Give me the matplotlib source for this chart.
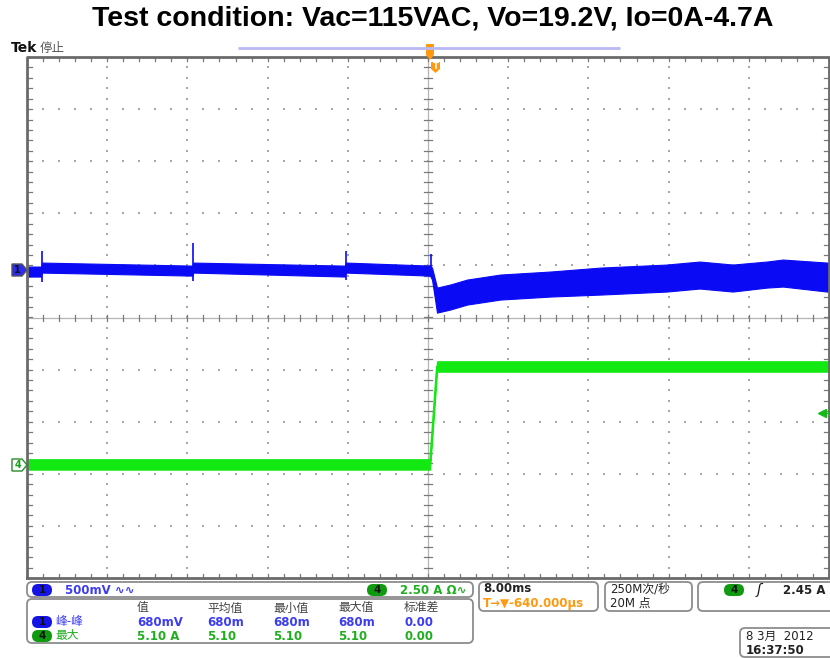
import matplotlib.pyplot as plt
import numpy as np
from matplotlib.patches import FancyBboxPatch, Polygon

plt.rcParams['font.family'] = ['DejaVu Sans', 'Noto Sans CJK SC']

# Scope settings
t_div = 8.0          # ms/div
ch1_scale = 500.0    # mV/div
ch4_scale = 2.5      # A/div
ch1_pos = 0.92       # div, channel 1 ground marker
ch4_pos = -2.82      # div, channel 4 zero marker
trig_level = 2.45    # A
trig_time = 0.2      # ms

# Channel 1: output voltage ripple envelope (mV around marker)
ch1_t = [-40.0, -38.6, -38.5, -23.5, -23.4, -8.3, -8.2, 0.2, 0.4, 0.9, 2.2, 3.9,
         7.2, 12.2, 17.2, 23.8, 27.1, 30.4, 33.8, 35.4, 39.8, 40.0]
ch1_hi = [29, 29, 67, 38, 67, 38, 67, 38, 19, -173, -144, -96,
          -48, -19, 19, 48, 77, 48, 77, 96, 67, 67]
ch1_lo = [-67, -67, -29, -58, -29, -67, -29, -58, -96, -413, -384, -336,
          -288, -259, -240, -211, -182, -211, -173, -163, -211, -211]

# Channel 1 switching spikes
spike_t = [-38.5, -23.4, -8.2, 0.3]
spike_hi = [182, 259, 182, 154]
spike_lo = [-115, -106, -96, -58]

# Channel 4: load current step 0 A -> 4.7 A
ch4_t = [-40.0, 0.2, 0.9, 40.0]
ch4_i = [0.0, 0.0, 4.7, 4.7]
ch4_band = 0.25

BLUE = '#0a0af5'
GREEN = '#12e812'
ORANGE = '#ff9a10'
GRID = '#a8a8a8'

fig = plt.figure(figsize=(8.3, 6.58), dpi=100)
ax = fig.add_axes([27 / 830, 1 - 578 / 658, 802 / 830, 521 / 658])
ax.set_xlim(-5 * t_div, 5 * t_div)
ax.set_ylim(-5, 5)
ax.axis('off')

# graticule dots
px_x = 10 * t_div / 802   # ms per pixel
px_y = 10 / 521           # div per pixel
for gx in np.arange(-4, 5) * t_div:
    if gx == 0:
        continue
    yy = np.arange(-5, 5.01, 0.2)
    ax.scatter(np.full_like(yy, gx), yy, s=1.0, marker='s', color=GRID, lw=0, zorder=1)
for gy in range(-4, 5):
    if gy == 0:
        continue
    xx = np.arange(-5 * t_div, 5 * t_div + 0.01, t_div / 5)
    ax.scatter(xx, np.full_like(xx, gy), s=1.0, marker='s', color=GRID, lw=0, zorder=1)

# centre crosshair with minor ticks
ax.axhline(0, color='#b4b4b4', lw=0.9, zorder=1)
ax.axvline(0, color='#b4b4b4', lw=0.9, zorder=1)
for xx in np.arange(-5 * t_div, 5 * t_div + 0.01, t_div / 5):
    ax.plot([xx, xx], [-3 * px_y, 3 * px_y], color='#7a7a7a', lw=0.9, zorder=1)
for yy in np.arange(-5, 5.01, 0.2):
    ax.plot([-4 * px_x, 4 * px_x], [yy, yy], color='#7a7a7a', lw=0.9, zorder=1)

# border and its ticks
ax.plot([-40, 40, 40, -40, -40], [-5, -5, 5, 5, -5], color='#6a6a6a', lw=2.0, zorder=4, clip_on=False)
for xx in np.arange(-5 * t_div, 5 * t_div + 0.01, t_div / 5):
    ax.plot([xx, xx], [5, 5 - 4 * px_y], color='#7a7a7a', lw=0.9, zorder=1)
    ax.plot([xx, xx], [-5, -5 + 4 * px_y], color='#7a7a7a', lw=0.9, zorder=1)
for yy in np.arange(-5, 5.01, 0.2):
    ax.plot([-40, -40 + 5 * px_x], [yy, yy], color='#7a7a7a', lw=0.9, zorder=1)
    ax.plot([40, 40 - 5 * px_x], [yy, yy], color='#7a7a7a', lw=0.9, zorder=1)

# channel 1 trace
t1 = np.array(ch1_t)
ax.fill_between(t1, ch1_pos + np.array(ch1_lo) / ch1_scale,
                ch1_pos + np.array(ch1_hi) / ch1_scale,
                color=BLUE, lw=0.8, zorder=3)
ax.vlines(spike_t, ch1_pos + np.array(spike_lo) / ch1_scale,
          ch1_pos + np.array(spike_hi) / ch1_scale, color=BLUE, lw=1.2, zorder=3)

# channel 4 trace
t4 = np.array(ch4_t)
i4 = np.array(ch4_i)
ax.fill_between(t4, ch4_pos + (i4 - ch4_band) / ch4_scale,
                ch4_pos + (i4 + ch4_band) / ch4_scale,
                color=GREEN, lw=0.8, zorder=3)
ax.plot(t4, ch4_pos + i4 / ch4_scale, color=GREEN, lw=1.5, zorder=3)

# trigger level arrow on the right edge
ty = ch4_pos + trig_level / ch4_scale
ax.plot([39.3], [ty], marker='<', ms=6, color='#18b818', clip_on=False, zorder=5)
ax.plot([39.5, 40.4], [ty, ty], color='#18b818', lw=1, clip_on=False, zorder=5)

# overlay in pixel units for the readouts
ov = fig.add_axes([0, 0, 1, 1])
ov.set_xlim(0, 830)
ov.set_ylim(658, 0)
ov.axis('off')

ov.text(433, 19, 'Test condition: Vac=115VAC, Vo=19.2V, Io=0A-4.7A',
        ha='center', va='center', fontsize=20.5, fontweight='bold',
        family=['Liberation Sans', 'DejaVu Sans'])
ov.text(11, 48, 'Tek', ha='left', va='center', fontsize=10, fontweight='bold', color='#111111')
ov.text(40, 48, '停止', ha='left', va='center', fontsize=9, color='#555555')

# record view bar and trigger markers
ov.plot([238, 620], [48, 48], color='#b8b8f4', lw=2, solid_capstyle='butt')
trig_px = 428 + trig_time / px_x
ov.add_patch(Polygon([[trig_px - 4, 44], [trig_px + 4, 44], [trig_px + 4, 55],
                      [trig_px, 60], [trig_px - 4, 55]], closed=True, fc=ORANGE, ec='none'))
ov.add_patch(Polygon([[trig_px + 1, 62], [trig_px + 10, 62], [trig_px + 10, 69],
                      [trig_px + 5.5, 73], [trig_px + 1, 69]], closed=True, fc=ORANGE, ec='none'))
ov.text(trig_px + 5.5, 66.5, 'T', ha='center', va='center', fontsize=6, color='white', fontweight='bold')

# channel markers on the left
ov.add_patch(Polygon([[12, 264], [22, 264], [27, 270], [22, 276], [12, 276]], closed=True,
                     fc='#2a2af0', ec='#555555', lw=1))
ov.text(17.5, 270, '1', ha='center', va='center', fontsize=7, color='#111111', fontweight='bold')
ov.add_patch(Polygon([[12, 459], [22, 459], [27, 465], [22, 471], [12, 471]], closed=True,
                     fc='white', ec='#2a8a2a', lw=1))
ov.text(17.5, 465, '4', ha='center', va='center', fontsize=7, color='#18a018', fontweight='bold')


def panel(x0, y0, x1, y1):
    ov.add_patch(FancyBboxPatch((x0, y0), x1 - x0, y1 - y0,
                                boxstyle='round,pad=0,rounding_size=5',
                                fc='white', ec='#8c8c8c', lw=1.3))


def pill(xc, yc, label, color):
    ov.add_patch(FancyBboxPatch((xc - 10, yc - 6), 20, 12,
                                boxstyle='round,pad=0,rounding_size=6',
                                fc=color, ec='none'))
    ov.text(xc, yc, label, ha='center', va='center', fontsize=7.5, color='#111111', fontweight='bold')


TB = '#3c3cf2'
TG = '#1fae1f'
fs = 8.5

panel(27, 582, 473, 597)
pill(42, 590, '1', '#1414e6')
ov.text(65, 590, '500mV ∿∿', ha='left', va='center', fontsize=fs, color=TB, fontweight='bold')
pill(377, 590, '4', '#109a10')
ov.text(400, 590, '2.50 A Ω∿', ha='left', va='center', fontsize=fs, color=TG, fontweight='bold')

panel(27, 599, 473, 643)
cols = [137, 207, 273, 338, 404]
heads = ['值', '平均值', '最小值', '最大值', '标准差']
row1 = ['680mV', '680m', '680m', '680m', '0.00']
row2 = ['5.10 A', '5.10', '5.10', '5.10', '0.00']
for cx, h, a, b in zip(cols, heads, row1, row2):
    ov.text(cx, 608, h, ha='left', va='center', fontsize=fs, color='#444444')
    ov.text(cx, 622, a, ha='left', va='center', fontsize=fs, color=TB, fontweight='bold')
    ov.text(cx, 636, b, ha='left', va='center', fontsize=fs, color=TG, fontweight='bold')
pill(42, 622, '1', '#1414e6')
ov.text(55, 622, '峰-峰', ha='left', va='center', fontsize=fs, color=TB)
pill(42, 636, '4', '#109a10')
ov.text(55, 636, '最大', ha='left', va='center', fontsize=fs, color=TG)

panel(479, 582, 598, 611)
ov.text(483, 589, '8.00ms', ha='left', va='center', fontsize=fs, color='#222222', fontweight='bold')
ov.text(483, 603, 'T→▼-640.000µs', ha='left', va='center', fontsize=fs, color=ORANGE, fontweight='bold')

panel(605, 582, 692, 611)
ov.text(610, 589, '250M次/秒', ha='left', va='center', fontsize=fs, color='#222222')
ov.text(610, 603, '20M 点', ha='left', va='center', fontsize=fs, color='#222222')

panel(698, 582, 836, 611)
pill(734, 590, '4', '#109a10')
ov.text(757, 590, 'ʃ', ha='left', va='center', fontsize=10, color='#111111', fontstyle='italic')
ov.text(783, 590, '2.45 A', ha='left', va='center', fontsize=fs, color='#222222', fontweight='bold')

panel(740, 628, 836, 657)
ov.text(746, 636, '8 3月  2012', ha='left', va='center', fontsize=fs, color='#222222')
ov.text(746, 650, '16:37:50', ha='left', va='center', fontsize=fs, color='#222222', fontweight='bold')

fig.savefig('out.png', dpi=100)
